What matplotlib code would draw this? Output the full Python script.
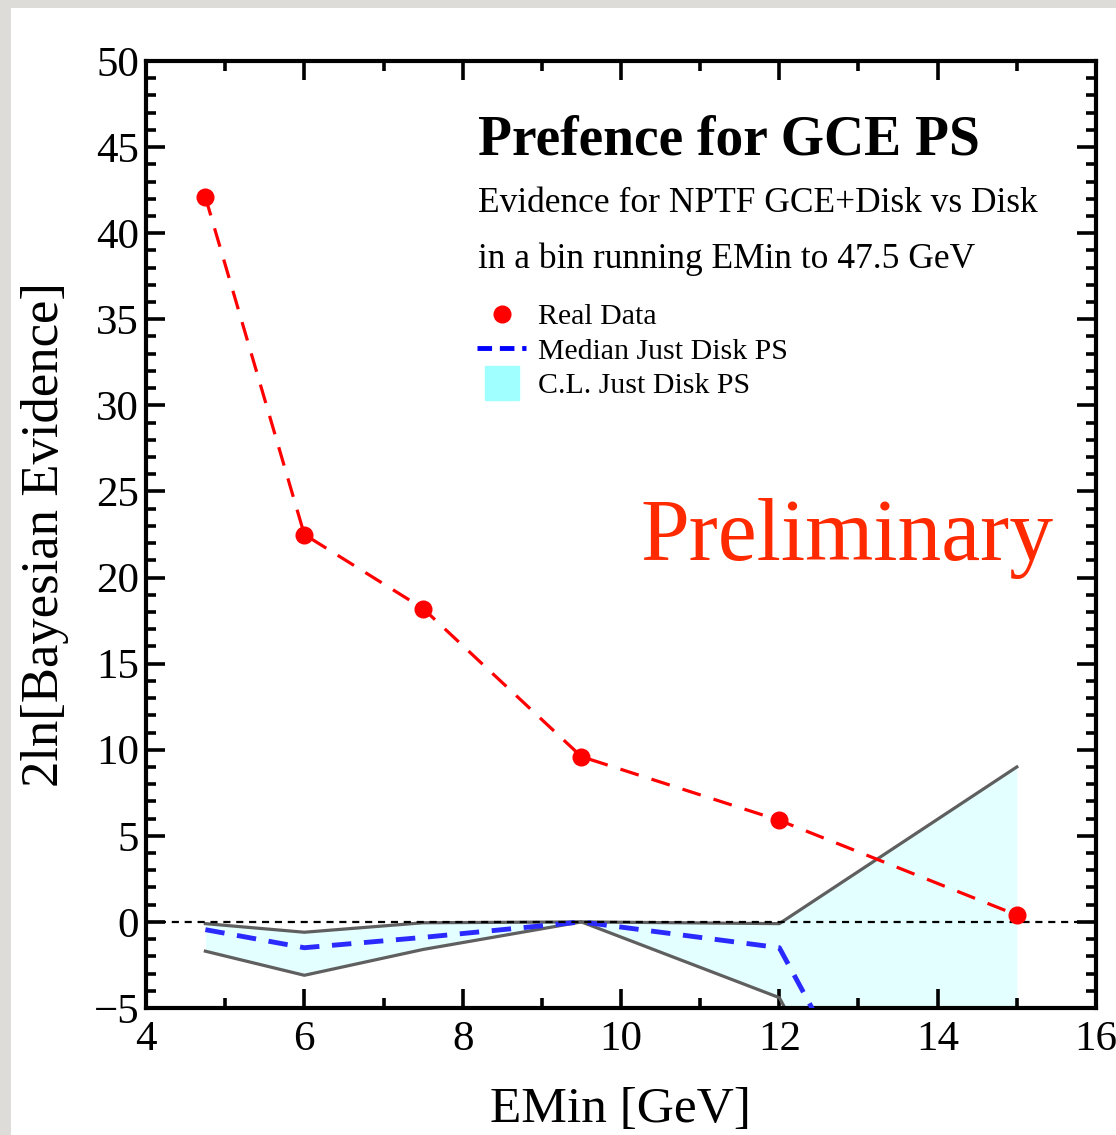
import matplotlib
matplotlib.use('Agg')
import matplotlib.pyplot as plt
from matplotlib.patches import Rectangle
from matplotlib.lines import Line2D
from matplotlib.ticker import MultipleLocator

# Werte
emin = [4.75, 6.0, 7.5, 9.5, 12.0, 15.0]
real_data = [42.1, 22.5, 18.2, 9.6, 5.9, 0.4]
median_disk = [-0.45, -1.5, -0.9, 0.0, -1.5, -27.0]
cl_upper = [-0.1, -0.6, -0.05, 0.0, -0.1, 9.0]
cl_lower = [-1.7, -3.1, -1.6, 0.0, -4.4, -30.0]

xticks = [4, 6, 8, 10, 12, 14, 16]
yticks = [-5, 0, 5, 10, 15, 20, 25, 30, 35, 40, 45, 50]

plt.rcParams['font.family'] = ['Liberation Serif', 'DejaVu Serif']

fig = plt.figure(figsize=(11.16, 11.35), dpi=100)
fig.patch.set_facecolor('#dddcd8')
fig.add_artist(Rectangle((11 / 1116, 0), 1, 1 - 8 / 1135, transform=fig.transFigure,
                         facecolor='white', edgecolor='none', zorder=-10))

ax = fig.add_axes([146 / 1116, 1 - 1008 / 1135, 950 / 1116, 947 / 1135])
ax.set_facecolor('white')

# Band und Linien
ax.fill_between(emin, cl_lower, cl_upper, color='#e4ffff', lw=0, zorder=1)
ax.plot(emin, cl_upper, color='#5f5f5f', lw=2.3, zorder=2)
ax.plot(emin, cl_lower, color='#5f5f5f', lw=2.3, zorder=2)
ax.plot(emin, median_disk, color='#2a2aff', lw=3.5, dashes=(4, 2.6), zorder=3)
ax.axhline(0, color='black', lw=1.6, dashes=(3.2, 2.6), zorder=4)
ax.plot(emin, real_data, color='#ff0000', lw=2.3, dashes=(6, 4.2), zorder=5)
ax.plot(emin, real_data, 'o', color='#ff0000', ms=12, zorder=6)

ax.set_xlim(4, 16)
ax.set_ylim(-5, 50)
ax.set_xticks(xticks)
ax.set_yticks(yticks)
ax.xaxis.set_minor_locator(MultipleLocator(1))
ax.yaxis.set_minor_locator(MultipleLocator(1))
ax.set_yticklabels(['\u22125' if t < 0 else str(t) for t in yticks])

ax.tick_params(which='both', direction='in', top=True, right=True, width=2.6,
               labelsize=31)
ax.tick_params(which='major', length=14)
ax.tick_params(which='minor', length=7)
ax.tick_params(axis='x', pad=9)
ax.tick_params(axis='y', pad=5)
for s in ax.spines.values():
    s.set_linewidth(3)

ax.set_xlabel('EMin [GeV]', fontsize=37)
ax.set_ylabel('2ln[Bayesian Evidence]', fontsize=38)
ax.xaxis.set_label_coords(0.5, -0.083)
ax.yaxis.set_label_coords(-0.081, 0.5)

# Texte
ax.text(0.349, 0.901, 'Prefence for GCE PS', transform=ax.transAxes,
        fontsize=40, fontweight='bold', va='baseline', ha='left')
ax.text(0.349, 0.841, 'Evidence for NPTF GCE+Disk vs Disk', transform=ax.transAxes,
        fontsize=25.5, va='baseline', ha='left')
ax.text(0.349, 0.781, 'in a bin running EMin to 47.5 GeV', transform=ax.transAxes,
        fontsize=25.5, va='baseline', ha='left')
ax.text(0.52, 0.473, 'Preliminary', transform=ax.transAxes, color='#ff2a00',
        fontsize=63, va='baseline', ha='left')

handles = [
    Line2D([], [], marker='o', color='#ff0000', ls='none', ms=12),
    Line2D([], [], color='#0000ff', lw=3.5, dashes=(3, 1.6)),
    Line2D([], [], marker='s', color='#a0ffff', ls='none', ms=24),
]
labels = ['Real Data', 'Median Just Disk PS', 'C.L. Just Disk PS']
ax.legend(handles, labels, loc='upper left', bbox_to_anchor=(0.348, 0.744),
          frameon=False, fontsize=21.5, handlelength=1.67, handletextpad=0.4,
          labelspacing=0.25, borderpad=0, borderaxespad=0)

fig.savefig('out.png', dpi=100, facecolor=fig.get_facecolor())
